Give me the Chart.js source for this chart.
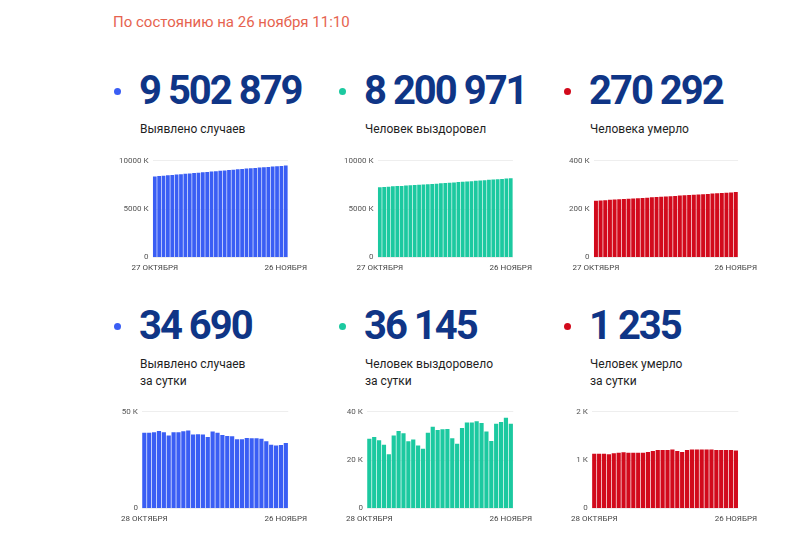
<!DOCTYPE html>
<html>
<head>
<meta charset="utf-8">
<script src="https://cdn.jsdelivr.net/npm/chart.js@4"></script>
<style>
  html, body { margin: 0; padding: 0; background: #fff; }
  body { width: 798px; height: 538px; position: relative; overflow: hidden; font-family: Roboto, "Noto Sans", sans-serif; }
  .head { position: absolute; left: 113px; top: 13px; font-size: 15px; line-height: 18px; color: #e6634f; }
  .dot { position: absolute; width: 7px; height: 7px; border-radius: 50%; }
  .num { position: absolute; font-size: 40px; line-height: 40px; font-weight: 700; letter-spacing: -2px; color: #0f3586; white-space: nowrap; }
  .lbl { position: absolute; font-size: 12px; line-height: 17px; color: #1e1e1e; }
  .box { position: absolute; width: 198px; height: 127px; }
</style>
</head>
<body>
<div class="head">По состоянию на 26 ноября 11:10</div>
<div id="cards"></div>
<script>
"use strict";

const BLUE = "#3a5ef4", GREEN = "#1cc9a0", RED = "#d20a1c";

// 27 октября .. 26 ноября
const monthDates = [
  "27 ОКТЯБРЯ", "28 ОКТЯБРЯ", "29 ОКТЯБРЯ", "30 ОКТЯБРЯ", "31 ОКТЯБРЯ",
  "1 НОЯБРЯ", "2 НОЯБРЯ", "3 НОЯБРЯ", "4 НОЯБРЯ", "5 НОЯБРЯ", "6 НОЯБРЯ",
  "7 НОЯБРЯ", "8 НОЯБРЯ", "9 НОЯБРЯ", "10 НОЯБРЯ", "11 НОЯБРЯ", "12 НОЯБРЯ",
  "13 НОЯБРЯ", "14 НОЯБРЯ", "15 НОЯБРЯ", "16 НОЯБРЯ", "17 НОЯБРЯ", "18 НОЯБРЯ",
  "19 НОЯБРЯ", "20 НОЯБРЯ", "21 НОЯБРЯ", "22 НОЯБРЯ", "23 НОЯБРЯ", "24 НОЯБРЯ",
  "25 НОЯБРЯ", "26 НОЯБРЯ"];
const dailyDates = monthDates.slice(1);

// totals, thousands
const casesTotal = [8382, 8421, 8460, 8499, 8539, 8579, 8617, 8656, 8695, 8735, 8775,
  8814, 8852, 8890, 8927, 8967, 9006, 9044, 9081, 9119, 9155,
  9190, 9227, 9263, 9299, 9336, 9370, 9403, 9436, 9469, 9503];
const recoveredTotal = [7267, 7296, 7325, 7353, 7380, 7402, 7432, 7464, 7496, 7523, 7552,
  7578, 7602, 7634, 7668, 7700, 7733, 7766, 7795, 7822, 7855,
  7891, 7926, 7962, 7998, 8030, 8057, 8093, 8128, 8166, 8201];
const deathsTotal = [234.8, 236.0, 237.1, 238.2, 239.3, 240.5, 241.6, 242.8, 243.9, 245.1, 246.2,
  247.4, 248.6, 249.8, 251.0, 252.2, 253.4, 254.6, 255.8, 256.9, 258.2,
  259.4, 260.6, 261.8, 263.0, 264.3, 265.5, 266.7, 267.9, 269.1, 270.3];

// per day, thousands
const casesDaily = [39.1, 39.1, 39.4, 40.1, 39.4, 37.7, 39.4, 39.4, 39.9, 40.3,
  38.2, 38.4, 38.2, 37.0, 39.8, 39.1, 38.0, 37.5, 37.3, 35.8,
  35.8, 36.5, 36.3, 36.3, 36.1, 34.7, 33.0, 32.5, 32.8, 33.9];
const recoveredDaily = [28.8, 29.6, 28.2, 26.4, 22.4, 30.2, 32.0, 31.1, 27.8, 28.5,
  26.0, 24.7, 31.3, 33.8, 32.5, 32.8, 32.9, 29.0, 26.8, 33.3,
  35.6, 35.6, 36.1, 35.4, 31.8, 27.9, 35.1, 35.8, 37.5, 35.1];
const deathsDaily = [1.13, 1.13, 1.13, 1.12, 1.14, 1.15, 1.16, 1.15, 1.15, 1.15,
  1.15, 1.17, 1.19, 1.21, 1.21, 1.21, 1.22, 1.19, 1.17, 1.21,
  1.22, 1.22, 1.22, 1.22, 1.22, 1.21, 1.21, 1.21, 1.21, 1.20];

const cards = [
  { x: 0, top: true,  color: BLUE,  num: "9 502 879", text: ["Выявлено случаев"], data: casesTotal, labels: monthDates, max: 10000, step: 5000 },
  { x: 1, top: true,  color: GREEN, num: "8 200 971", text: ["Человек выздоровел"], data: recoveredTotal, labels: monthDates, max: 10000, step: 5000 },
  { x: 2, top: true,  color: RED,   num: "270 292",   text: ["Человека умерло"], data: deathsTotal, labels: monthDates, max: 400, step: 200 },
  { x: 0, top: false, color: BLUE,  num: "34 690",    text: ["Выявлено случаев", "за сутки"], data: casesDaily, labels: dailyDates, max: 50, step: 50 },
  { x: 1, top: false, color: GREEN, num: "36 145",    text: ["Человек выздоровело", "за сутки"], data: recoveredDaily, labels: dailyDates, max: 40, step: 20 },
  { x: 2, top: false, color: RED,   num: "1 235",     text: ["Человек умерло", "за сутки"], data: deathsDaily, labels: dailyDates, max: 2, step: 1 },
];

function el(cls, left, top, html) {
  const d = document.createElement("div");
  d.className = cls; d.style.left = left + "px"; d.style.top = top + "px";
  if (html) d.innerHTML = html;
  document.getElementById("cards").appendChild(d);
  return d;
}

cards.forEach((c) => {
  const left = 113 + c.x * 225;
  const y0 = c.top ? 0 : 235; // second row offset
  const dot = el("dot", left + 1, 88 + y0);
  dot.style.background = c.color;
  el("num", left + 26, 71 + y0, c.num);
  el("lbl", left + 27, 121 + y0, c.text.join("<br>"));

  const box = el("box", left + 2, (c.top ? 152 : 403));
  const cv = document.createElement("canvas");
  box.appendChild(cv);
  const last = c.labels.length - 1;
  new Chart(cv, {
    type: "bar",
    data: { labels: c.labels,
      datasets: [{ data: c.data, backgroundColor: c.color, barPercentage: 0.86, categoryPercentage: 1 }] },
    options: {
      responsive: true, maintainAspectRatio: false, animation: false,
      plugins: { legend: { display: false }, tooltip: { enabled: false } },
      scales: {
        x: {
          grid: { display: false, drawTicks: false, tickLength: 0 }, border: { display: false },
          ticks: { autoSkip: false, maxRotation: 0, padding: 6, color: "#444",
            font: { family: "Roboto", size: 8 },
            callback: (v, idx) => (idx === 0 || idx === last) ? c.labels[idx] : "" },
        },
        y: {
          min: 0, max: c.max,
          grid: { color: "#eeeeee", drawTicks: false }, border: { display: false },
          ticks: { stepSize: c.step, padding: 4, color: "#555",
            font: { family: "Roboto", size: 8 },
            callback: (v) => v === 0 ? "0" : v + " К" },
        },
      },
    },
  });
});
</script>
</body>
</html>
